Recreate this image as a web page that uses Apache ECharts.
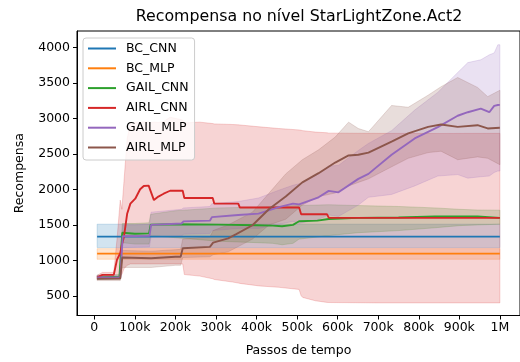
<!DOCTYPE html>
<html>
<head>
<meta charset="utf-8">
<script src="https://cdn.jsdelivr.net/npm/echarts@6/dist/echarts.min.js"></script>
<style>
  html, body { margin: 0; padding: 0; background: #fff; }
  #chart { width: 520px; height: 362px; }
</style>
</head>
<body>
<div id="chart"></div>
<script>
// Training steps are given in thousands; each run has a mean curve and a lower/upper band.
const bcCnnX = [7, 1000];
const bcCnnMean = [1335, 1335];
const bcCnnLo = [1180, 1180];
const bcCnnHi = [1510, 1510];

const bcMlpX = [7, 1000];
const bcMlpMean = [1095, 1095];
const bcMlpLo = [1015, 1015];
const bcMlpHi = [1165, 1165];

const gailCnnX =    [7, 62, 69, 100, 135, 139, 200, 306, 400, 440, 463, 490, 505, 550, 578, 650, 750, 840, 900, 945, 1000];
const gailCnnMean = [760, 770, 1389, 1375, 1380, 1504, 1510, 1504, 1495, 1490, 1482, 1500, 1551, 1560, 1583, 1600, 1605, 1618, 1620, 1618, 1600];
const gailCnnLo =   [735, 740, 1250, 1230, 1230, 1350, 1320, 1270, 1250, 1240, 1220, 1240, 1300, 1330, 1350, 1390, 1420, 1460, 1490, 1500, 1510];
const gailCnnHi =   [790, 800, 1520, 1520, 1530, 1650, 1700, 1740, 1750, 1760, 1760, 1770, 1775, 1780, 1785, 1773, 1760, 1740, 1720, 1710, 1708];

const airlCnnX =    [7, 20, 48, 56, 64, 68, 73, 81, 89, 101, 113, 122, 134, 138, 147, 158, 171, 187, 218, 222, 260, 292, 296, 341, 355, 359, 407, 455, 505, 510, 514, 545, 574, 578, 700, 850, 1000];
const airlCnnMean = [760, 795, 795, 1010, 1100, 1220, 1330, 1657, 1800, 1870, 2004, 2050, 2055, 2030, 1850, 1900, 1940, 1982, 1982, 1880, 1880, 1880, 1800, 1800, 1800, 1745, 1745, 1745, 1745, 1650, 1650, 1650, 1650, 1602, 1600, 1600, 1600];
const airlCnnLo =   [730, 760, 760, 760, 780, 800, 880, 930, 950, 950, 950, 950, 950, 950, 950, 950, 950, 950, 950, 800, 778, 740, 730, 694, 680, 675, 639, 620, 590, 500, 477, 430, 407, 405, 400, 400, 400];
const airlCnnHi =   [790, 830, 830, 1300, 1850, 1720, 2100, 2720, 2930, 2950, 2945, 2955, 2950, 2940, 2950, 2945, 2960, 3020, 2980, 2940, 2950, 2930, 2925, 2917, 2912, 2910, 2884, 2860, 2840, 2835, 2830, 2810, 2800, 2795, 2792, 2790, 2792];

const gailMlpX =    [7, 64, 70, 100, 136, 140, 215, 220, 285, 290, 355, 405, 455, 490, 505, 553, 578, 602, 651, 676, 733, 790, 847, 896, 921, 953, 974, 986, 995, 1000];
const gailMlpMean = [760, 760, 1340, 1342, 1345, 1500, 1520, 1550, 1560, 1610, 1640, 1660, 1750, 1800, 1790, 1890, 1980, 1960, 2150, 2220, 2490, 2720, 2880, 3040, 3090, 3140, 3090, 3180, 3192, 3194];
const gailMlpLo =   [735, 735, 1180, 1185, 1190, 1330, 1340, 1370, 1380, 1420, 1450, 1450, 1510, 1550, 1520, 1580, 1640, 1620, 1780, 1890, 1930, 2050, 2190, 2210, 2160, 2180, 2190, 2240, 2260, 2260];
const gailMlpHi =   [790, 790, 1500, 1500, 1510, 1680, 1720, 1740, 1760, 1800, 1830, 1880, 1990, 2060, 2080, 2220, 2330, 2340, 2550, 2650, 2830, 3120, 3370, 3650, 3790, 3830, 3900, 3926, 4042, 4042];

const airlMlpX =    [7, 64, 69, 140, 200, 213, 218, 285, 293, 330, 350, 390, 431, 472, 513, 553, 594, 627, 651, 676, 733, 774, 823, 855, 896, 945, 970, 1000];
const airlMlpMean = [740, 745, 1040, 1030, 1050, 1050, 1170, 1190, 1250, 1310, 1370, 1495, 1725, 1900, 2100, 2230, 2380, 2480, 2490, 2520, 2676, 2792, 2884, 2917, 2884, 2907, 2861, 2870];
const airlMlpLo =   [715, 715, 900, 900, 930, 930, 1040, 1050, 1080, 1120, 1180, 1300, 1500, 1580, 1780, 1900, 1950, 2050, 2100, 2150, 2320, 2440, 2520, 2540, 2420, 2460, 2440, 2350];
const airlMlpHi =   [770, 775, 1140, 1130, 1150, 1155, 1300, 1330, 1420, 1500, 1560, 1680, 1950, 2220, 2420, 2560, 2740, 2950, 2860, 2815, 3185, 3160, 3330, 3450, 3580, 3440, 3310, 3400];

const xTicks = [0, 100, 200, 300, 400, 500, 600, 700, 800, 900, 1000];
const yTicks = [500, 1000, 1500, 2000, 2500, 3000, 3500, 4000];

const runs = [
  { name: 'BC_CNN',   color: '#1f77b4', rgb: '31,119,180',  x: bcCnnX,   mean: bcCnnMean,   lo: bcCnnLo,   hi: bcCnnHi },
  { name: 'BC_MLP',   color: '#ff7f0e', rgb: '255,127,14',  x: bcMlpX,   mean: bcMlpMean,   lo: bcMlpLo,   hi: bcMlpHi },
  { name: 'GAIL_CNN', color: '#2ca02c', rgb: '44,160,44',   x: gailCnnX, mean: gailCnnMean, lo: gailCnnLo, hi: gailCnnHi },
  { name: 'AIRL_CNN', color: '#d62728', rgb: '214,39,40',   x: airlCnnX, mean: airlCnnMean, lo: airlCnnLo, hi: airlCnnHi },
  { name: 'GAIL_MLP', color: '#9467bd', rgb: '148,103,189', x: gailMlpX, mean: gailMlpMean, lo: gailMlpLo, hi: gailMlpHi },
  { name: 'AIRL_MLP', color: '#8c564b', rgb: '140,86,75',   x: airlMlpX, mean: airlMlpMean, lo: airlMlpLo, hi: airlMlpHi }
];

const FONT = 'DejaVu Sans';
const TICK_SIZE = 12.5;

// Shaded band between lo and hi, drawn as one polygon through the axis scales.
function bandSeries(run) {
  const fill = 'rgba(' + run.rgb + ',0.2)';
  return {
    type: 'custom',
    name: run.name + ' band',
    silent: true,
    z: 1,
    clip: true,
    data: [[run.x[0] * 1000, run.lo[0]]],
    renderItem: function (params, api) {
      const upper = run.x.map((x, i) => api.coord([x * 1000, run.hi[i]]));
      const lower = run.x.map((x, i) => api.coord([x * 1000, run.lo[i]])).reverse();
      return {
        type: 'polygon',
        shape: { points: upper.concat(lower) },
        style: { fill: fill, stroke: fill, lineWidth: 1 }
      };
    }
  };
}

function lineSeries(run) {
  return {
    type: 'line',
    name: run.name,
    z: 3,
    symbol: 'none',
    silent: true,
    color: run.color,
    lineStyle: { color: run.color, width: 1.9 },
    data: run.x.map((x, i) => [x * 1000, run.mean[i]])
  };
}

const xLabel = v => v === 0 ? '0' : (v >= 1000000 ? '1M' : (v / 1000) + 'k');

const chart = echarts.init(document.getElementById('chart'), null, { renderer: 'canvas' });
chart.setOption({
  animation: false,
  backgroundColor: '#ffffff',
  textStyle: { fontFamily: FONT },
  grid: { left: 77, right: -2.6, top: 31, bottom: 42, show: true, borderColor: '#000', borderWidth: 1, backgroundColor: 'transparent' },
  graphic: [{
    type: 'text',
    x: 299, y: 17,
    style: { text: 'Recompensa no nível StarLightZone.Act2', fontFamily: FONT, fontSize: 15.8, fill: '#000', align: 'center', verticalAlign: 'middle' }
  }],
  legend: {
    data: runs.map(r => r.name),
    orient: 'vertical',
    left: 83, top: 38,
    padding: [3, 6, 5, 5],
    itemGap: 4.8,
    itemWidth: 28,
    itemHeight: 2,
    icon: 'rect',
    backgroundColor: 'rgba(255,255,255,0.8)',
    borderColor: '#cccccc',
    borderWidth: 1,
    borderRadius: 3,
    textStyle: { fontFamily: FONT, fontSize: TICK_SIZE, color: '#000', lineHeight: 15, padding: [0, 0, 0, 5] }
  },
  xAxis: {
    type: 'value',
    min: -42650, max: 1049650,
    name: 'Passos de tempo',
    nameLocation: 'middle',
    nameGap: 28.5,
    nameTextStyle: { fontFamily: FONT, fontSize: TICK_SIZE, color: '#000' },
    axisLine: { show: true, onZero: false, lineStyle: { color: '#000', width: 1 } },
    axisTick: { show: true, length: 4, lineStyle: { color: '#000', width: 1 }, customValues: xTicks.map(v => v * 1000) },
    axisLabel: { fontFamily: FONT, fontSize: TICK_SIZE, color: '#000', margin: 6, customValues: xTicks.map(v => v * 1000), formatter: xLabel },
    splitLine: { show: false }
  },
  yAxis: {
    type: 'value',
    min: 222, max: 4236,
    name: 'Recompensa',
    nameLocation: 'middle',
    nameGap: 51,
    nameTextStyle: { fontFamily: FONT, fontSize: TICK_SIZE, color: '#000' },
    axisLine: { show: true, onZero: false, lineStyle: { color: '#000', width: 1 } },
    axisTick: { show: true, length: 4, lineStyle: { color: '#000', width: 1 }, customValues: yTicks },
    axisLabel: { fontFamily: FONT, fontSize: TICK_SIZE, color: '#000', margin: 7, customValues: yTicks, formatter: v => String(v) },
    splitLine: { show: false }
  },
  series: runs.map(bandSeries).concat(runs.map(lineSeries))
});
</script>
</body>
</html>
